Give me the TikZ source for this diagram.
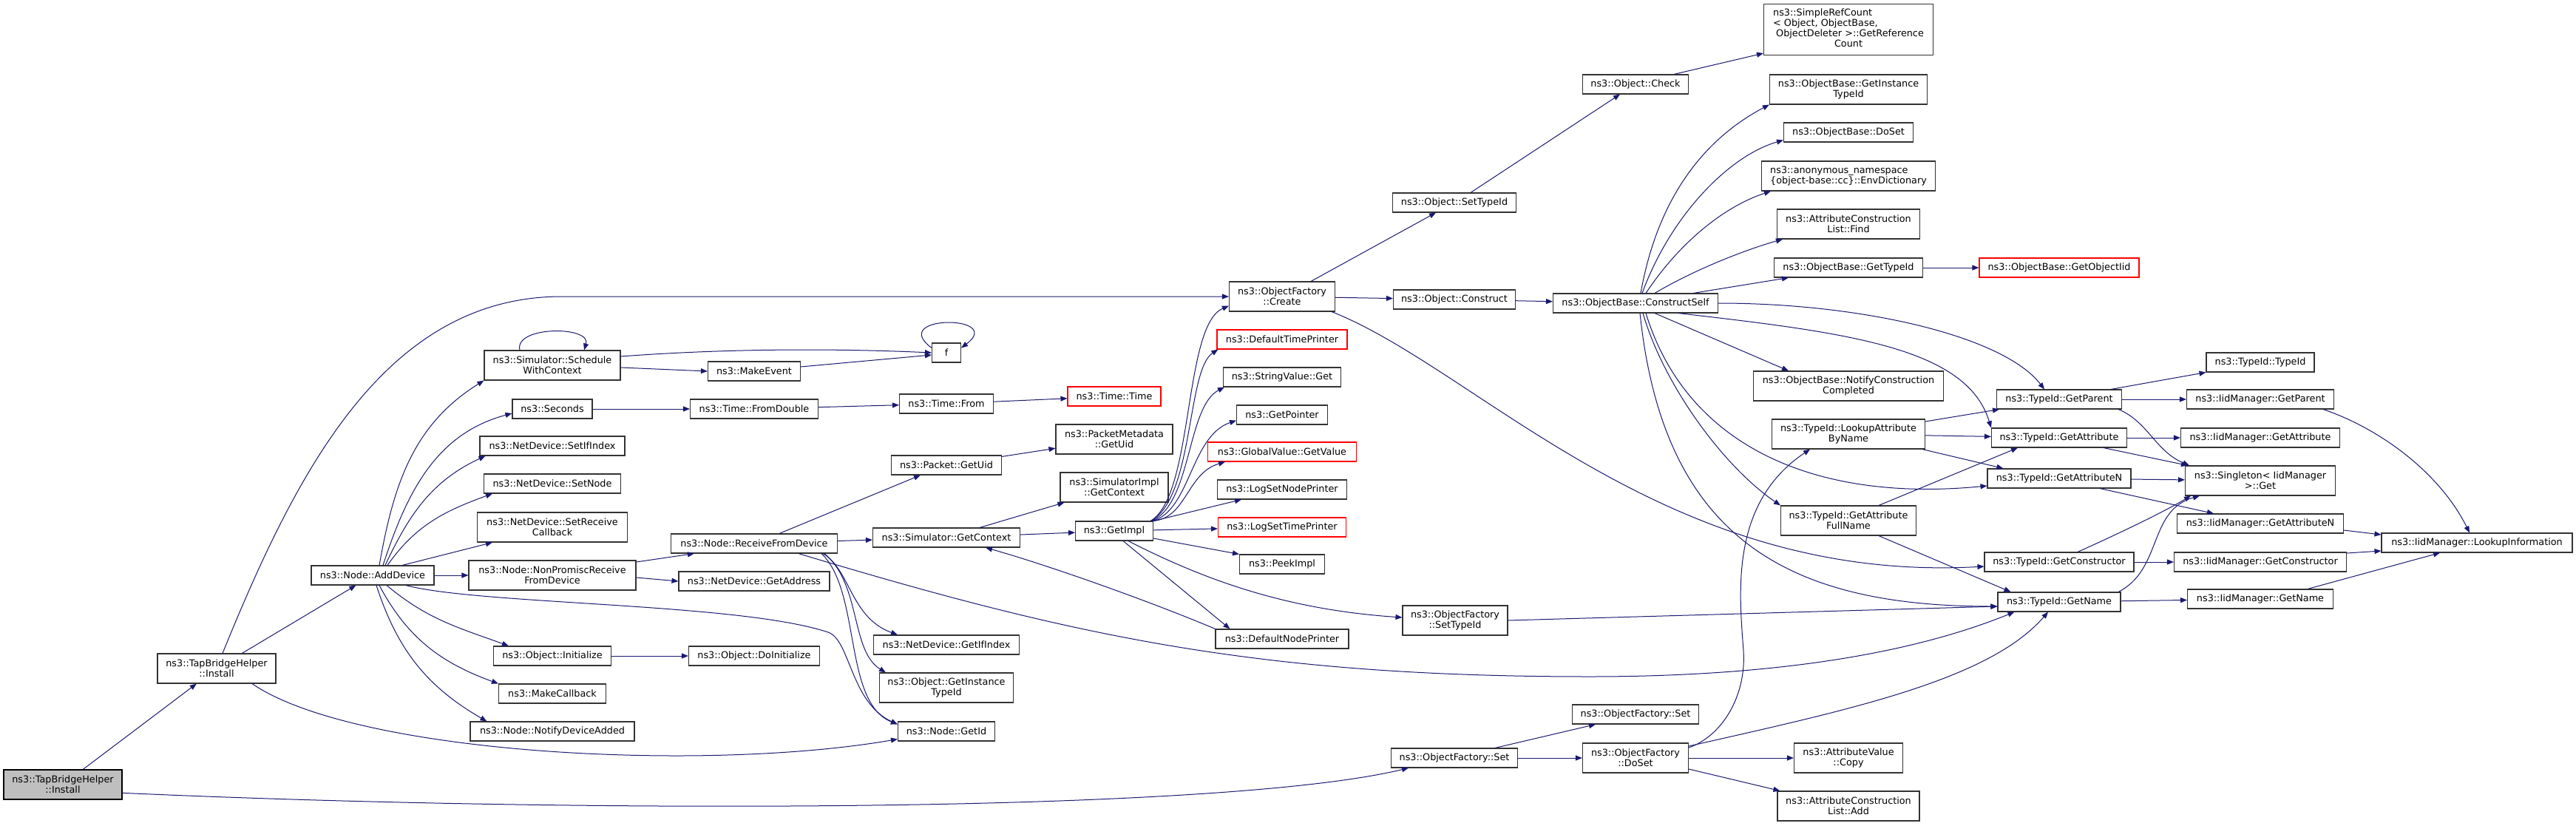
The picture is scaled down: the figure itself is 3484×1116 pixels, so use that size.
\documentclass[tikz,border=0pt]{standalone}
\usepackage{fontspec}
\setmainfont{DejaVu Sans}
\usetikzlibrary{arrows.meta}
\definecolor{edgeblue}{HTML}{191970}
\definecolor{rootgray}{HTML}{BFBFBF}
\begin{document}
\begin{tikzpicture}[>={Triangle[length=9pt,width=7pt]},x=1pt,y=-1pt,
	fn/.style={draw=black!80,line width=1.1pt,fill=white,inner sep=0pt,minimum height=26pt,align=center,font=\fontsize{12.8}{14}\selectfont},
	two/.style={minimum height=40pt},
	trunc/.style={draw=red},
	focus/.style={fill=rootgray,draw=black},
	call/.style={->,draw=edgeblue,line width=1pt}]
	\fill[white] (0,0) rectangle (3484,1116);
	\useasboundingbox (0,0) rectangle (3484,1116);
	
	\node[fn,two,focus,minimum width=160pt] (Root) at (85,1061) {ns3::TapBridgeHelper\\::Install};
	\node[fn,two,minimum width=160pt] (TInst) at (293,904) {ns3::TapBridgeHelper\\::Install};
	\node[fn,minimum width=166pt] (AddDev) at (504,778) {ns3::Node::AddDevice};
	
	\node[fn,two,minimum width=184pt] (Sched) at (747,494) {ns3::Simulator::Schedule\\WithContext};
	\node[fn,minimum width=108pt] (Secs) at (747,553) {ns3::Seconds};
	\node[fn,minimum width=196pt] (SetIf) at (747,603) {ns3::NetDevice::SetIfIndex};
	\node[fn,minimum width=185pt] (SetNode) at (747,654) {ns3::NetDevice::SetNode};
	\node[fn,two,minimum width=203pt] (SetCb) at (747,713) {ns3::NetDevice::SetReceive\\Callback};
	\node[fn,two,minimum width=226pt] (NonPr) at (747,778) {ns3::Node::NonPromiscReceive\\FromDevice};
	\node[fn,minimum width=159pt] (Init) at (747,887) {ns3::Object::Initialize};
	\node[fn,minimum width=145pt] (MkCb) at (747,938) {ns3::MakeCallback};
	\node[fn,minimum width=222pt] (Notify) at (747,989) {ns3::Node::NotifyDeviceAdded};
	
	\node[fn,minimum width=125pt] (MkEv) at (1020,502) {ns3::MakeEvent};
	\node[fn,minimum width=173pt] (FromD) at (1020,553) {ns3::Time::FromDouble};
	\node[fn,minimum width=225pt] (RFD) at (1020,735) {ns3::Node::ReceiveFromDevice};
	\node[fn,minimum width=204pt] (GetAddr) at (1020,786) {ns3::NetDevice::GetAddress};
	\node[fn,minimum width=177pt] (DoInit) at (1020,887) {ns3::Object::DoInitialize};
	
	\node[fn,minimum width=39pt] (F) at (1280,477) {f};
	\node[fn,minimum width=127pt] (TFrom) at (1280,546) {ns3::Time::From};
	\node[fn,minimum width=149pt] (PktUid) at (1280,629) {ns3::Packet::GetUid};
	\node[fn,minimum width=199pt] (GetCtx) at (1280,727) {ns3::Simulator::GetContext};
	\node[fn,minimum width=197pt] (GetIf) at (1280,872) {ns3::NetDevice::GetIfIndex};
	\node[fn,two,minimum width=181pt] (GetITid) at (1280,930) {ns3::Object::GetInstance\\TypeId};
	\node[fn,minimum width=131pt] (GetId) at (1280,989) {ns3::Node::GetId};
	
	\node[fn,trunc,minimum width=126pt] (TTime) at (1507,536) {ns3::Time::Time};
	\node[fn,two,minimum width=158pt] (PmUid) at (1507,594) {ns3::PacketMetadata\\::GetUid};
	\node[fn,two,minimum width=146pt] (SimCtx) at (1507,659) {ns3::SimulatorImpl\\::GetContext};
	\node[fn,minimum width=105pt] (GetImpl) at (1507,718) {ns3::GetImpl};
	
	\node[fn,two,minimum width=143pt] (OFCreate) at (1734,401) {ns3::ObjectFactory\\::Create};
	\node[fn,trunc,minimum width=176pt] (DefTP) at (1734,459) {ns3::DefaultTimePrinter};
	\node[fn,minimum width=159pt] (StrGet) at (1734,510) {ns3::StringValue::Get};
	\node[fn,minimum width=123pt] (GetPtr) at (1734,561) {ns3::GetPointer};
	\node[fn,trunc,minimum width=201pt] (GVal) at (1734,611) {ns3::GlobalValue::GetValue};
	\node[fn,minimum width=175pt] (LogNP) at (1734,662) {ns3::LogSetNodePrinter};
	\node[fn,trunc,minimum width=173pt] (LogTP) at (1734,713) {ns3::LogSetTimePrinter};
	\node[fn,minimum width=115pt] (Peek) at (1734,763) {ns3::PeekImpl};
	\node[fn,minimum width=180pt] (DefNP) at (1734,864) {ns3::DefaultNodePrinter};
	
	\node[fn,minimum width=167pt] (ObjSetTid) at (1967,274) {ns3::Object::SetTypeId};
	\node[fn,minimum width=165pt] (Constr) at (1967,405) {ns3::Object::Construct};
	\node[fn,two,minimum width=142pt] (OFSetTid) at (1968,839) {ns3::ObjectFactory\\::SetTypeId};
	\node[fn,minimum width=171pt] (OFSet1) at (1967,1025) {ns3::ObjectFactory::Set};
	
	\node[fn,minimum width=143pt] (Check) at (2212,114) {ns3::Object::Check};
	\node[fn,minimum width=223pt] (CSelf) at (2212,410) {ns3::ObjectBase::ConstructSelf};
	\node[fn,minimum width=171pt] (OFSet2) at (2212,966) {ns3::ObjectFactory::Set};
	\node[fn,two,minimum width=143pt] (DoSet) at (2212,1025) {ns3::ObjectFactory\\::DoSet};
	
	\node[fn,minimum width=229pt,minimum height=69pt] (RefC) at (2500,40) {\begin{tabular}{@{}l@{}}ns3::SimpleRefCount\\< Object, ObjectBase,\\\ ObjectDeleter >::GetReference\\\multicolumn{1}{@{}c@{}}{Count}\end{tabular}};
	\node[fn,two,minimum width=213pt] (OBGetITid) at (2500,121) {ns3::ObjectBase::GetInstance\\TypeId};
	\node[fn,minimum width=175pt] (OBDoSet) at (2500,179) {ns3::ObjectBase::DoSet};
	\node[fn,two,align=left,minimum width=235pt] (EnvD) at (2500,238) {ns3::anonymous\_namespace\\\{object-base::cc\}::EnvDictionary};
	\node[fn,two,minimum width=193pt] (ACLFind) at (2500,303) {ns3::AttributeConstruction\\List::Find};
	\node[fn,minimum width=201pt] (OBGetTid) at (2500,362) {ns3::ObjectBase::GetTypeId};
	\node[fn,two,minimum width=257pt] (NotifyCC) at (2500,522) {ns3::ObjectBase::NotifyConstruction\\Completed};
	\node[fn,two,minimum width=207pt] (LookA) at (2500,587) {ns3::TypeId::LookupAttribute\\ByName};
	\node[fn,two,minimum width=183pt] (GetAttrF) at (2500,704) {ns3::TypeId::GetAttribute\\FullName};
	\node[fn,two,minimum width=147pt] (AVCopy) at (2500,1025) {ns3::AttributeValue\\::Copy};
	\node[fn,two,minimum width=192pt] (ACLAdd) at (2500,1090) {ns3::AttributeConstruction\\List::Add};
	
	\node[fn,trunc,minimum width=216pt] (ObjIid) at (2785,362) {ns3::ObjectBase::GetObjectIid};
	\node[fn,minimum width=169pt] (TGetParent) at (2785,540) {ns3::TypeId::GetParent};
	\node[fn,minimum width=183pt] (TGetAttr) at (2785,592) {ns3::TypeId::GetAttribute};
	\node[fn,minimum width=194pt] (TGetAttrN) at (2785,647) {ns3::TypeId::GetAttributeN};
	\node[fn,minimum width=202pt] (TGetCtor) at (2785,760) {ns3::TypeId::GetConstructor};
	\node[fn,minimum width=166pt] (TGetName) at (2785,814) {ns3::TypeId::GetName};
	
	\node[fn,minimum width=146pt] (TTid) at (3057,490) {ns3::TypeId::TypeId};
	\node[fn,minimum width=199pt] (IGetParent) at (3057,540) {ns3::IidManager::GetParent};
	\node[fn,minimum width=215pt] (IGetAttr) at (3057,592) {ns3::IidManager::GetAttribute};
	\node[fn,two,minimum width=203pt] (Single) at (3057,650) {ns3::Singleton< IidManager\\>::Get};
	\node[fn,minimum width=225pt] (IGetAttrN) at (3057,708) {ns3::IidManager::GetAttributeN};
	\node[fn,minimum width=233pt] (IGetCtor) at (3057,760) {ns3::IidManager::GetConstructor};
	\node[fn,minimum width=197pt] (IGetName) at (3057,810) {ns3::IidManager::GetName};
	\node[fn,minimum width=258pt] (LookInfo) at (3350,734) {ns3::IidManager::LookupInformation};
	
	\draw[call] (Root) -- (TInst);
	\draw[call] (Root.-8) .. controls (780,1100) and (1650,1100) .. ([xshift=24pt]OFSet1.south west);
	\draw[call] (TInst) -- (AddDev);
	\draw[call] ([xshift=8pt]TInst.north) .. controls (400,640) and (520,401) .. (760,401) -- (OFCreate.west);
	\draw[call] ([xshift=48pt]TInst.south) .. controls (480,1020) and (950,1045) .. ([yshift=3pt]GetId.south west);
	
	\draw[call] ([xshift=9pt]AddDev.north) to[out=80,in=212] (Sched.south west);
	\draw[call] ([xshift=14pt]AddDev.north) to[out=72,in=195] ([yshift=-6pt]Secs.west);
	\draw[call] ([xshift=17pt]AddDev.north) to[out=65,in=205] ([xshift=8pt]SetIf.south west);
	\draw[call] ([xshift=20pt]AddDev.north) to[out=55,in=200] ([xshift=12pt]SetNode.south west);
	\draw[call] ([xshift=40pt]AddDev.north) -- ([xshift=21pt]SetCb.south west);
	\draw[call] (AddDev) -- (NonPr);
	\draw[call] ([xshift=45pt]AddDev.south) .. controls (650,818) and (1000,815) .. (1120,855) .. controls (1150,865) and (1150,950) .. ([yshift=-4pt]GetId.north west);
	\draw[call] ([xshift=19pt]AddDev.south) to[out=-40,in=160] ([xshift=21pt]Init.north west);
	\draw[call] ([xshift=9pt]AddDev.south) to[out=-62,in=160] (MkCb.north west);
	\draw[call] ([xshift=5pt]AddDev.south) to[out=-72,in=150] ([xshift=23pt]Notify.north west);
	
	\draw[call] ([xshift=-44pt]Sched.north) .. controls +(-8,-33) and +(10,-33) .. ([xshift=43pt]Sched.north);
	\draw[call] ([yshift=12pt]Sched.east) .. controls (1000,470) and (1150,472) .. (F.west);
	\draw[call] ([yshift=-3pt]Sched.east) -- (MkEv.west);
	\draw[call] ([yshift=6pt]MkEv.east) -- ([yshift=-3pt]F.west);
	\draw[call] ([yshift=-7pt]F.north west) .. controls +(-60,-45) and +(60,-45) .. ([yshift=-7pt]F.north east);
	\draw[call] (Secs) -- (FromD);
	\draw[call] (FromD) -- (TFrom);
	\draw[call] (TFrom) -- (TTime);
	\draw[call] ([yshift=18pt]NonPr.east) -- ([xshift=32pt]RFD.south west);
	\draw[call] ([yshift=-3pt]NonPr.east) -- (GetAddr.west);
	\draw[call] (Init) -- (DoInit);
	
	\draw[call] ([xshift=34pt]RFD.north) -- ([xshift=40pt]PktUid.south west);
	\draw[call] (RFD) -- (GetCtx);
	\draw[call] ([xshift=93pt]RFD.south) .. controls (1150,770) and (1150,835) .. ([xshift=33pt]GetIf.north west);
	\draw[call] ([xshift=95pt]RFD.south) .. controls (1165,790) and (1150,880) .. ([xshift=9pt]GetITid.north west);
	\draw[call] ([xshift=91pt]RFD.south) .. controls (1165,800) and (1140,950) .. ([yshift=-4pt]GetId.north west);
	\draw[call] ([xshift=60pt]RFD.south) .. controls (1450,860) and (1700,915) .. (2150,915) .. controls (2450,915) and (2620,870) .. ([xshift=23pt]TGetName.south west);
	\draw[call] (PktUid) -- (PmUid);
	\draw[call] ([xshift=45pt]GetCtx.north) -- ([xshift=6pt]SimCtx.south west);
	\draw[call] (GetCtx) -- (GetImpl);
	\draw[call] (DefNP.north west) .. controls (1560,815) and (1420,765) .. ([xshift=53pt]GetCtx.south);
	
	\draw[call] ([xshift=-4pt]GetImpl.north east) .. controls (1615,670) and (1600,440) .. ([yshift=8pt]OFCreate.south west);
	\draw[call] ([xshift=-3pt]GetImpl.north east) .. controls (1615,670) and (1605,500) .. ([xshift=2pt]DefTP.south west);
	\draw[call] ([xshift=-2pt]GetImpl.north east) .. controls (1612,680) and (1605,550) .. ([xshift=2pt]StrGet.south west);
	\draw[call] ([xshift=-1pt]GetImpl.north east) .. controls (1610,690) and (1610,590) .. ([yshift=6pt]GetPtr.south west);
	\draw[call] (GetImpl.north east) .. controls (1605,700) and (1605,640) .. ([xshift=24pt]GVal.south west);
	\draw[call] (GetImpl.north east) -- ([xshift=33pt]LogNP.south west);
	\draw[call] (GetImpl) -- (LogTP);
	\draw[call] ([yshift=-10pt]GetImpl.east) -- (Peek.north west);
	\draw[call] ([xshift=12pt]GetImpl.south) -- ([xshift=20pt]DefNP.north west);
	\draw[call] ([xshift=19pt]GetImpl.south) .. controls (1640,790) and (1750,825) .. ([yshift=4pt]OFSetTid.west);
	
	\draw[call] ([xshift=39pt]OFCreate.north) -- ([xshift=-25pt]ObjSetTid.south);
	\draw[call] (OFCreate) -- (Constr);
	\draw[call] ([xshift=-5pt]OFCreate.south east) .. controls (2000,500) and (2250,790) .. ([yshift=-6pt]TGetCtor.west);
	\draw[call] (Constr) -- (CSelf);
	\draw[call] ([xshift=22pt]ObjSetTid.north) -- ([xshift=-21pt]Check.south);
	\draw[call] ([xshift=52pt]Check.north) -- ([yshift=3pt]RefC.south west);
	\draw[call] (OFSetTid.east) -- ([yshift=-6pt]TGetName.west);
	\draw[call] ([xshift=55pt]OFSet1.north) -- ([xshift=32pt]OFSet2.south west);
	\draw[call] (OFSet1) -- (DoSet);
	
	\draw[call] ([xshift=7pt]CSelf.north) .. controls (2245,250) and (2320,180) .. (OBGetITid.south west);
	\draw[call] ([xshift=9pt]CSelf.north) .. controls (2260,290) and (2340,210) .. ([yshift=3pt]OBDoSet.south west);
	\draw[call] ([xshift=14pt]CSelf.north) .. controls (2270,330) and (2330,280) .. ([xshift=13pt]EnvD.south west);
	\draw[call] ([xshift=26pt]CSelf.north) .. controls (2300,360) and (2370,335) .. ([xshift=8pt]ACLFind.south west);
	\draw[call] ([xshift=78pt]CSelf.north) -- ([xshift=20pt]OBGetTid.south west);
	\draw[call] (OBGetTid) -- (ObjIid);
	\draw[call] ([xshift=26pt]CSelf.south) -- ([xshift=48pt]NotifyCC.north west);
	\draw[call] ([xshift=58pt]CSelf.south) .. controls (2500,450) and (2660,470) .. (TGetAttr.north west);
	\draw[call] (CSelf.east) .. controls (2520,410) and (2710,455) .. ([xshift=-20pt]TGetParent.north);
	\draw[call] ([xshift=14pt]CSelf.south) .. controls (2280,600) and (2450,680) .. ([yshift=-10pt]TGetAttrN.west);
	\draw[call] ([xshift=10pt]CSelf.south) .. controls (2250,520) and (2330,630) .. (GetAttrF.north west);
	\draw[call] ([xshift=6pt]CSelf.south) .. controls (2250,730) and (2420,820) .. ([yshift=-6pt]TGetName.west);
	
	\draw[call] ([yshift=17pt]LookA.east) -- ([xshift=4pt]TGetParent.south west);
	\draw[call] (LookA) -- (TGetAttr);
	\draw[call] ([xshift=-4pt]LookA.south east) -- ([xshift=22pt]TGetAttrN.north west);
	\draw[call] ([xshift=41pt]GetAttrF.north) -- ([xshift=36pt]TGetAttr.south west);
	\draw[call] ([xshift=41pt]GetAttrF.south) -- ([xshift=18pt]TGetName.north west);
	\draw[call] ([yshift=14pt]DoSet.east) .. controls (2330,995) and (2362,940) .. (2358,880) .. controls (2352,800) and (2340,680) .. ([xshift=-52pt]LookA.south);
	\draw[call] ([yshift=16pt]DoSet.east) .. controls (2500,960) and (2690,920) .. ([xshift=-15pt]TGetName.south);
	\draw[call] (DoSet) -- (AVCopy);
	\draw[call] ([yshift=-15pt]DoSet.east) -- ([xshift=4pt]ACLAdd.north west);
	
	\draw[call] ([xshift=70pt]TGetParent.north) -- (TTid.south west);
	\draw[call] (TGetParent) -- (IGetParent);
	\draw[call] ([xshift=-5pt]TGetParent.south east) .. controls (2905,570) and (2915,610) .. ([xshift=6pt]Single.north west);
	\draw[call] (TGetAttr) -- (IGetAttr);
	\draw[call] ([xshift=60pt]TGetAttr.south) -- ([xshift=4pt]Single.north west);
	\draw[call] (TGetAttrN) -- (Single);
	\draw[call] ([xshift=55pt]TGetAttrN.south) -- ([xshift=50pt]IGetAttrN.north west);
	\draw[call] ([xshift=25pt]TGetCtor.north) .. controls (2880,715) and (2930,690) .. ([xshift=8pt]Single.south west);
	\draw[call] (TGetCtor) -- (IGetCtor);
	\draw[call] ([xshift=80pt]TGetName.north) .. controls (2925,770) and (2905,690) .. ([xshift=20pt]Single.south west);
	\draw[call] (TGetName) -- (IGetName);
	\draw[call] ([xshift=-15pt]IGetParent.south east) .. controls (3220,580) and (3300,640) .. ([xshift=-10pt]LookInfo.north);
	\draw[call] ([yshift=-9pt]IGetAttrN.east) -- ([yshift=11pt]LookInfo.west);
	\draw[call] ([yshift=12pt]IGetCtor.east) -- ([yshift=-11pt]LookInfo.west);
	\draw[call] ([xshift=-35pt]IGetName.north east) -- ([xshift=-50pt]LookInfo.south);
\end{tikzpicture}
\end{document}
